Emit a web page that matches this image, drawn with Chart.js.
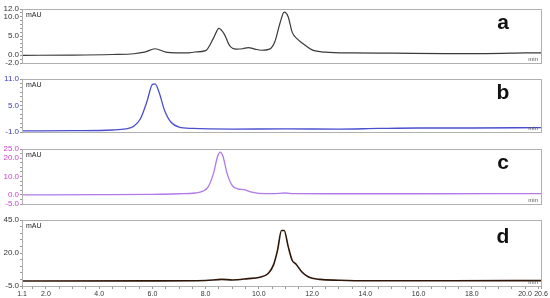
<!DOCTYPE html>
<html>
<head>
<meta charset="utf-8">
<script src="https://cdn.jsdelivr.net/npm/chart.js@4.4.1/dist/chart.umd.min.js"></script>
<style>
  body { margin: 0; background: #fff; }
  .wrap { position: relative; width: 550px; height: 298px; }
  .wrap canvas { position: absolute; left: 0; top: 0; }
</style>
</head>
<body>
<div class="wrap">
  <canvas id="chartA" width="550" height="298"></canvas>
  <canvas id="chartB" width="550" height="298"></canvas>
  <canvas id="chartC" width="550" height="298"></canvas>
  <canvas id="chartD" width="550" height="298"></canvas>
</div>
<script>
// retention time axis (min)
const xMin = 1.1, xMax = 20.6;
const xTickLabels = [1.1, 2.0, 4.0, 6.0, 8.0, 10.0, 12.0, 14.0, 16.0, 18.0, 20.0, 20.6];

// trace a
const timeA = [1.1, 3.0, 4.5, 5.3, 5.7, 6.1, 6.5, 6.9, 7.3, 7.6, 8.0, 8.3, 8.5, 8.7, 8.9, 9.15, 9.4, 9.6, 9.85, 10.1, 10.4, 10.6, 10.8, 10.95, 11.1, 11.25, 11.45, 11.7, 12.0, 12.5, 13.5, 15.0, 17.0, 18.5, 20.0, 20.6];
const mauA  = [0.0, 0.05, 0.2, 0.4, 0.8, 1.7, 0.8, 0.6, 0.6, 0.85, 1.2, 4.5, 7.0, 5.5, 2.5, 1.6, 1.7, 2.0, 1.6, 1.3, 1.6, 3.5, 8.5, 11.2, 10.0, 6.0, 4.2, 2.8, 1.4, 0.8, 0.6, 0.55, 0.45, 0.45, 0.6, 0.65];

// trace b
const timeB = [1.1, 3.0, 4.5, 5.0, 5.3, 5.55, 5.8, 6.0, 6.1, 6.25, 6.45, 6.7, 7.0, 7.5, 9.0, 11.0, 13.0, 14.5, 16.0, 18.0, 20.6];
const mauB  = [-0.75, -0.7, -0.55, -0.3, 0.3, 2.0, 6.0, 9.8, 9.9, 8.0, 4.0, 1.2, 0.1, -0.2, -0.35, -0.3, -0.35, -0.2, -0.1, -0.1, 0.0];

// trace c
const timeC = [1.1, 4.0, 6.0, 7.0, 7.6, 7.9, 8.1, 8.3, 8.45, 8.55, 8.65, 8.8, 9.0, 9.2, 9.45, 9.7, 10.0, 10.5, 11.0, 11.3, 13.0, 16.0, 20.6];
const mauC  = [0.0, 0.1, 0.3, 0.6, 1.0, 2.0, 4.5, 12.0, 21.0, 23.3, 21.0, 12.0, 5.0, 3.3, 2.8, 1.6, 0.8, 0.7, 1.0, 0.7, 0.6, 0.6, 0.7];

// trace d
const timeD = [1.1, 6.0, 8.0, 8.6, 9.0, 9.6, 10.0, 10.35, 10.55, 10.7, 10.85, 10.95, 11.1, 11.25, 11.4, 11.6, 11.85, 12.3, 13.0, 14.0, 17.0, 20.6];
const mauD  = [-1.2, -1.1, -0.8, 0.0, -0.4, 0.6, 1.5, 4.5, 11.0, 22.0, 37.0, 37.0, 25.0, 14.5, 11.5, 6.0, 2.0, 0.0, -0.6, -1.0, -1.0, -0.9];

// y axis ticks per panel
const yTicksA = [-2.0, 0.0, 5.0, 10.0, 12.0];
const yTicksB = [-1.0, 5.0, 11.0];
const yTicksC = [-5.0, 0.0, 10.0, 20.0, 25.0];
const yTicksD = [-5.0, 20.0, 45.0];

const panelLabels = ['a', 'b', 'c', 'd'];

function range(a, b, step) {
  const out = [];
  for (let v = a; v <= b + 1e-9; v += step) out.push(Math.round(v * 100) / 100);
  return out;
}

const framePlugin = {
  id: 'frame',
  afterDraw(chart, args, opts) {
    const { ctx, chartArea: ca } = chart;
    ctx.save();
    ctx.strokeStyle = '#b0b0b0';
    ctx.lineWidth = 1;
    ctx.strokeRect(Math.round(ca.left) + 0.5, Math.round(ca.top) + 0.5,
      Math.round(ca.right - ca.left), Math.round(ca.bottom - ca.top));
    ctx.fillStyle = '#222';
    ctx.font = '7px "Liberation Sans", Arial, sans-serif';
    ctx.textBaseline = 'top';
    ctx.textAlign = 'left';
    ctx.fillText('mAU', ca.left + 4, ca.top + 3);
    ctx.textAlign = 'right';
    ctx.textBaseline = 'bottom';
    ctx.fillStyle = '#555';
    ctx.font = '6px "Liberation Sans", Arial, sans-serif';
    ctx.fillText('min', ca.right - 3, ca.bottom - 1);
    ctx.fillStyle = '#111';
    ctx.font = 'bold 21px "Liberation Sans", Arial, sans-serif';
    ctx.textAlign = 'center';
    ctx.textBaseline = 'middle';
    ctx.fillText(opts.label, ca.left + 481, ca.top + (ca.bottom - ca.top) * 0.26);
    ctx.restore();
  }
};

function makePanel(id, times, values, color, width, yMin, yMax, majors, minorStep, tickColor, padTop, padBottom, label, showX) {
  const yAll = range(yMin, yMax, minorStep);
  new Chart(document.getElementById(id), {
    type: 'line',
    data: {
      datasets: [{
        data: times.map((t, i) => ({ x: t, y: values[i] })),
        borderColor: color,
        borderWidth: width,
        pointRadius: 0,
        fill: false,
        cubicInterpolationMode: 'monotone'
      }]
    },
    options: {
      responsive: false,
      animation: false,
      devicePixelRatio: 1,
      layout: { padding: { top: padTop, bottom: padBottom, left: 0, right: 9 } },
      plugins: { legend: { display: false }, tooltip: { enabled: false }, frame: { label: label } },
      scales: {
        x: {
          type: 'linear',
          min: xMin,
          max: xMax,
          display: showX,
          afterBuildTicks(scale) {
            const vals = range(1.5, 20.5, 0.5).concat(xTickLabels);
            scale.ticks = [...new Set(vals)].sort((a, b) => a - b).map(v => ({ value: v }));
          },
          afterFit(scale) { scale.height = 12; },
          ticks: {
            autoSkip: false,
            maxRotation: 0,
            padding: 1,
            color: '#333',
            font: { size: 7, family: '"Liberation Sans", Arial, sans-serif' },
            callback: v => xTickLabels.includes(v) ? v.toFixed(1) : ''
          },
          grid: { drawOnChartArea: false, drawTicks: true, tickLength: 3, color: '#999' },
          border: { color: '#999' }
        },
        y: {
          min: yMin,
          max: yMax,
          afterBuildTicks(scale) {
            const vals = [...new Set(yAll.concat(majors))].sort((a, b) => a - b);
            scale.ticks = vals.map(v => ({ value: v }));
          },
          afterFit(scale) { scale.width = 22; },
          ticks: {
            autoSkip: false,
            padding: 1,
            color: tickColor,
            font: { size: 8, family: '"Liberation Sans", Arial, sans-serif' },
            callback: v => majors.includes(v) ? v.toFixed(1) : ''
          },
          grid: { drawOnChartArea: false, drawTicks: true, tickLength: 2, color: '#999' },
          border: { color: '#999' }
        }
      }
    },
    plugins: [framePlugin]
  });
}

makePanel('chartA', timeA, mauA, '#3a3a3a', 1.2, -2, 12, yTicksA, 1, '#333', 9, 223, panelLabels[0], false);
makePanel('chartB', timeB, mauB, '#4a4fcf', 1.3, -1, 11, yTicksB, 1, '#3a3ac0', 79, 154, panelLabels[1], false);
makePanel('chartC', timeC, mauC, '#b07ae8', 1.3, -5, 25, yTicksC, 2.5, '#d040d0', 149, 82, panelLabels[2], false);
makePanel('chartD', timeD, mauD, '#2e1608', 1.6, -5, 45, yTicksD, 5, '#333', 220, 0, panelLabels[3], true);
</script>
</body>
</html>
